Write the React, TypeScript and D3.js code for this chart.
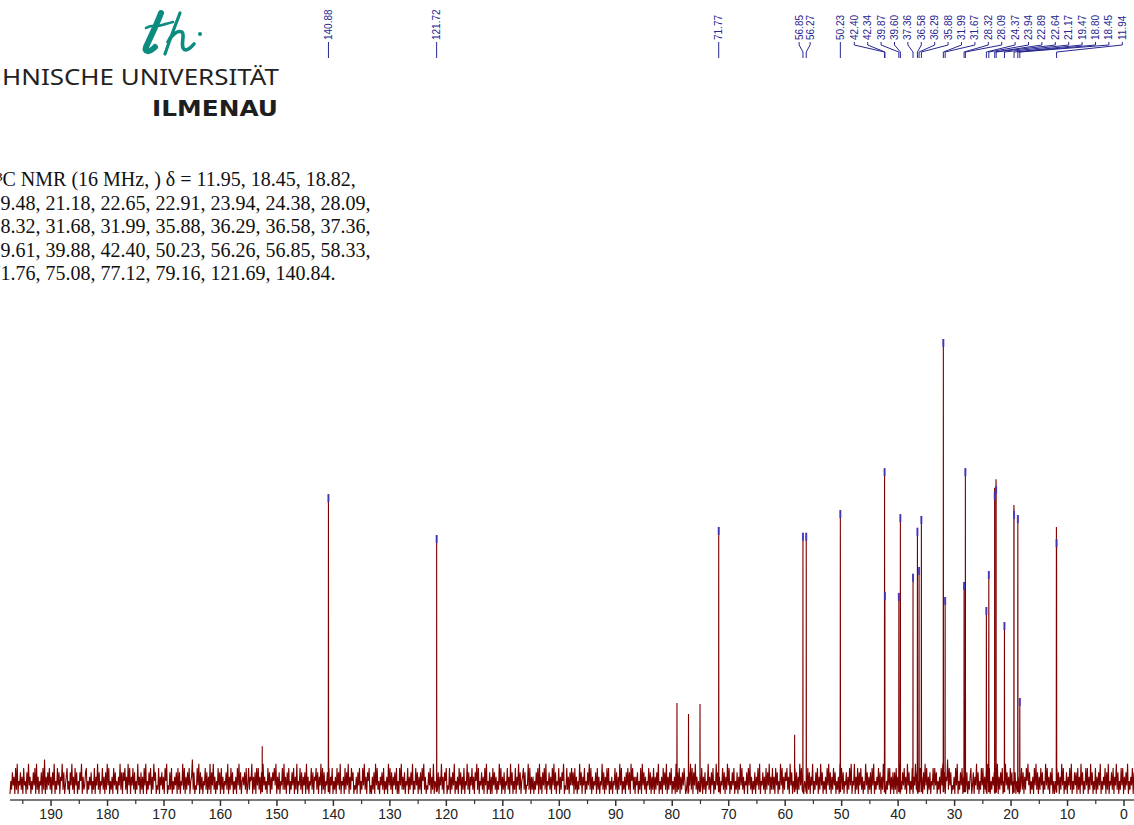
import React from "react";
import * as d3 from "d3";

const W = 1134;
const H = 825;

// axis
const majorTicks = [190, 180, 170, 160, 150, 140, 130, 120, 110, 100, 90, 80, 70, 60, 50, 40, 30, 20, 10, 0];
const minorTicks = [195, 185, 175, 165, 155, 145, 135, 125, 115, 105, 95, 85, 75, 65, 55, 45, 35, 25, 15, 5];

// labelled (picked) peaks: ppm and height (tallest = 100)
const pickedPpm = [140.88, 121.72, 71.77, 56.85, 56.27, 50.23, 42.40, 42.34, 39.87, 39.60, 37.36, 36.58, 36.29, 35.88, 31.99, 31.67, 28.32, 28.09, 24.37, 23.94, 22.89, 22.64, 21.17, 19.47, 18.80, 18.45, 11.94];
const pickedHeight = [65.9, 56.9, 58.7, 57.4, 57.4, 62.4, 71.6, 44.4, 44.2, 61.5, 48.4, 58.5, 49.9, 61.1, 100, 43.3, 46.6, 71.6, 41.1, 49.0, 66.4, 67.7, 37.8, 62.2, 61.3, 21.1, 56.0];

// unlabelled peaks (solvent, shoulders)
const extraPpm = [152.6, 79.16, 77.12, 75.08, 58.33, 22.91, 22.67, 19.50, 11.97];
const extraHeight = [10.5, 20.0, 17.6, 19.8, 13.0, 67.3, 69.2, 63.5, 58.7];

// baseline noise, one digit per sample, left (high ppm) to right
const noiseDigits =
  "03152406170325140623051724031526071403250618041526" +
  "14052703162504371502461305271406250315370412560314" +
  "25031604271503261405172603140625130427150536140726" +
  "04261503172405140627031526041735021604251406370215" +
  "16031425061503271604152603481502162705140326150417" +
  "05271403162506140325170416250314062715034251602614" +
  "37041506261405372413062504153627041503261714052603" +
  "15260417032615042507140326150436150427061503251604" +
  "26031406251703240615270416350214052603162714053602" +
  "04150726130425160314072615042516030627141503260415" +
  "27031625041506371402152604170326150427140536021604" +
  "15270314062504160327150426140537160325140627031504" +
  "06251403172604150326140725031604271503461502271604" +
  "14031526071405261703251406271503260415370216140526" +
  "25061403172504260315271604132506140327150416260314" +
  "03261504172603140526150736140425031607251403261504" +
  "16041527031406251704152603140725160415263014052716" +
  "05271403162604150327140526031725140326150417260315" +
  "26031504172614032506271403150426170325140615270416" +
  "14062503172604153614072503261504172614032506150427" +
  "03152604172503140627150416250314072615032504162703" +
  "27041605261403172504150627031426150417250316260415" +
  "05160427031526140725031604271503261405172604150326" +
  "16250314062715043816250214062703152604172503146025" +
  "04271503162604150726031425061704152603172514062503" +
  "25031407261504163725031406271504162503172614052603" +
  "03162504172603150426170315250614072503162604172503" +
  "16041527031426051703251604271503162604152703142605";

const textLines = [
  "¹³C NMR (16 MHz, ) δ = 11.95, 18.45, 18.82,",
  "19.48, 21.18, 22.65, 22.91, 23.94, 24.38, 28.09,",
  "28.32, 31.68, 31.99, 35.88, 36.29, 36.58, 37.36,",
  "39.61, 39.88, 42.40, 50.23, 56.26, 56.85, 58.33,",
  "71.76, 75.08, 77.12, 79.16, 121.69, 140.84.",
];

const RED = "#7d0000";
const BLUE = "#262690";
const TEAL = "#0b8c7f";

export default function App() {
  const x = d3.scaleLinear().domain([197.27, -1.77]).range([10, 1134]);
  const y = d3.scaleLinear().domain([0, 100]).range([794, 339]);

  // build spectrum points
  const n = noiseDigits.length;
  const step = (197.27 - -1.77) / (n - 1);
  const pts: [number, number][] = [];
  for (let i = 0; i < n; i++) {
    pts.push([197.27 - i * step, +noiseDigits[i] * 0.95]);
  }
  const allPeaks = pickedPpm
    .map((p, i) => [p, pickedHeight[i]])
    .concat(extraPpm.map((p, i) => [p, extraHeight[i]]));
  allPeaks.forEach(([p, h]) => {
    pts.push([p + 0.03, 0.4]);
    pts.push([p, h]);
    pts.push([p - 0.03, 0.4]);
  });
  pts.sort((a, b) => b[0] - a[0]);
  const line = d3
    .line<[number, number]>()
    .x((d) => x(d[0]))
    .y((d) => y(d[1]));
  const path = line(pts) || "";

  // label layout
  const sp = 13.4;
  const rightBound = 1122.3;
  const peakX = pickedPpm.map((p) => x(p));
  const labelX = peakX.slice();
  const clusterIdx = pickedPpm.map((p, i) => i).filter((i) => pickedPpm[i] < 45);
  clusterIdx.forEach((idx, k) => {
    labelX[idx] = rightBound - (clusterIdx.length - 1 - k) * sp;
  });
  const pairIdx = pickedPpm.map((p, i) => i).filter((i) => pickedPpm[i] > 55 && pickedPpm[i] < 60);
  const pairMean = d3.mean(pairIdx, (i) => peakX[i]) || 0;
  pairIdx.forEach((idx, k) => {
    labelX[idx] = pairMean + (k - (pairIdx.length - 1) / 2) * 11;
  });

  return (
    <svg
      width={W}
      height={H}
      viewBox={`0 0 ${W} ${H}`}
      style={{ position: "absolute", left: 0, top: 0, background: "#fff" }}
    >
      <rect x={0} y={0} width={W} height={H} fill="#fff" />
      {/* logo */}
      <g fill="none" stroke={TEAL} strokeLinecap="round" strokeLinejoin="round">
        <path d="M161,13 C157,24 150,38 146,47 C144,52 149,53 155,47" strokeWidth={6} />
        <path d="M146,28 C152,24 157,27 162,25 C166,24 169,23 173,22" strokeWidth={2.6} />
        <path d="M180,13 C175,26 169,42 165,54" strokeWidth={3.2} />
        <path d="M168,42 C172,34 178,30 182,32 C185,35 181,42 183,48 C185,52 190,49 194,44" strokeWidth={3.6} />
        <circle cx={200} cy={34} r={2} fill={TEAL} stroke="none" />
      </g>
      <text x={2} y={85} fontFamily="'Noto Sans', 'Open Sans', sans-serif" fontSize={21} fill="#222" textLength={277} lengthAdjust="spacingAndGlyphs">
        HNISCHE UNIVERSITÄT
      </text>
      <text x={152} y={116} fontFamily="'DejaVu Sans', 'Noto Sans', sans-serif" fontSize={22} fontWeight="bold" fill="#1e1e1e" textLength={126} lengthAdjust="spacingAndGlyphs">
        ILMENAU
      </text>

      {/* description */}
      {textLines.map((t, i) => (
        <text key={i} x={-9.5} y={186 + i * 23.6} fontFamily="'Liberation Serif', 'Times New Roman', serif" fontSize={20} fill="#111">
          {t}
        </text>
      ))}

      {/* peak labels */}
      <g>
        {pickedPpm.map((p, i) => (
          <g key={i}>
            <path
              d={`M${labelX[i]},42 V45 L${peakX[i]},52 V58`}
              fill="none"
              stroke={BLUE}
              strokeWidth={1}
            />
            <text
              transform={`translate(${labelX[i]},40) rotate(-90)`}
              dy="0.35em"
              fontFamily="'Liberation Sans', Arial, sans-serif"
              fontSize={10}
              fill={BLUE}
            >
              {p.toFixed(2)}
            </text>
          </g>
        ))}
      </g>

      {/* spectrum */}
      <path d={path} fill="none" stroke={RED} strokeWidth={1.1} strokeLinejoin="miter" />

      {/* picked-peak markers */}
      {pickedPpm.map((p, i) => (
        <line key={i} x1={x(p)} x2={x(p)} y1={y(pickedHeight[i])} y2={y(pickedHeight[i]) + 8} stroke="#3a3ad0" strokeWidth={2} opacity={0.85} />
      ))}

      {/* axis */}
      <line x1={10} x2={1134} y1={800} y2={800} stroke="#7a7a7a" strokeWidth={2} />
      {majorTicks.map((t) => (
        <g key={t}>
          <line x1={x(t)} x2={x(t)} y1={800} y2={806} stroke="#333" strokeWidth={1.5} />
          <text x={x(t)} y={819} textAnchor="middle" fontFamily="'Liberation Sans', Arial, sans-serif" fontSize={14} fill="#222">
            {t}
          </text>
        </g>
      ))}
      {minorTicks.map((t) => (
        <line key={t} x1={x(t)} x2={x(t)} y1={800} y2={804} stroke="#333" strokeWidth={1.2} />
      ))}
    </svg>
  );
}
